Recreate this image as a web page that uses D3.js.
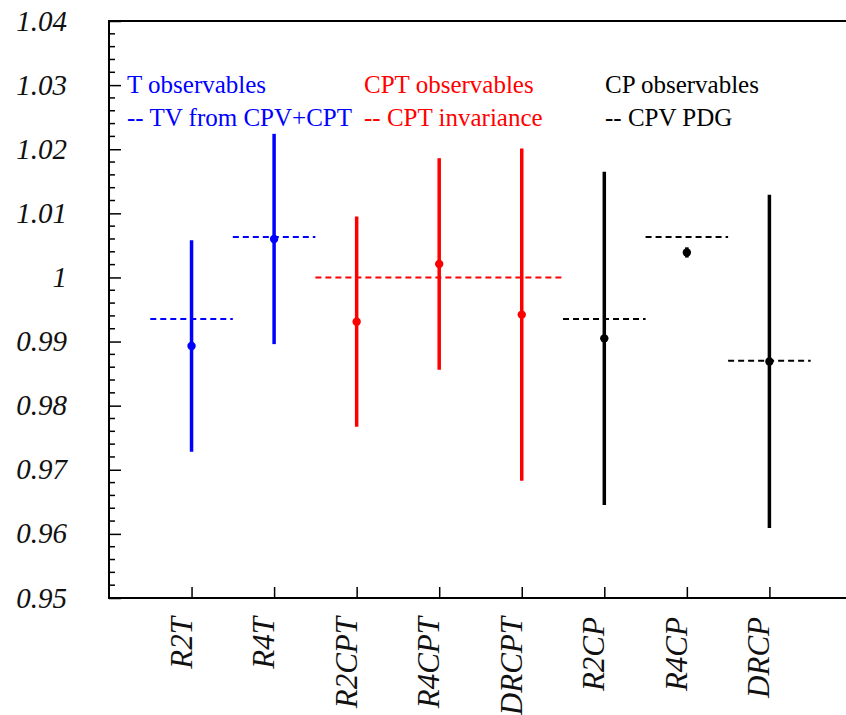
<!DOCTYPE html>
<html>
<head>
<meta charset="utf-8">
<script src="https://cdn.jsdelivr.net/npm/d3@7"></script>
</head>
<body style="margin:0">
<svg id="chart" width="846" height="715" style="font-family: 'Liberation Serif'"></svg>
<script>
// ---- data ----
const categories = ["R2T", "R4T", "R2CPT", "R4CPT", "DRCPT", "R2CP", "R4CP", "DRCP"];
const groups     = ["T", "T", "CPT", "CPT", "CPT", "CP", "CP", "CP"];
const values     = [0.9893, 1.0060, 0.9931, 1.0021, 0.9942, 0.9905, 1.0039, 0.9869];
const errors     = [0.0165, 0.0164, 0.0164, 0.0165, 0.0259, 0.0260, 0.0008, 0.0260];

// reference (dashed) lines: value, first and last category covered, group
const refValues = [0.9935, 1.0063, 1.0000, 0.9935, 1.0063, 0.9870];
const refStart  = ["R2T", "R4T", "R2CPT", "R2CP", "R4CP", "DRCP"];
const refEnd    = ["R2T", "R4T", "DRCPT", "R2CP", "R4CP", "DRCP"];
const refGroups = ["T", "T", "CPT", "CP", "CP", "CP"];

const groupNames  = ["T", "CPT", "CP"];
const legendLine1 = ["T observables", "CPT observables", "CP observables"];
const legendLine2 = ["-- TV from CPV+CPT", "-- CPT invariance", "-- CPV PDG"];

const yTicks = [0.95, 0.96, 0.97, 0.98, 0.99, 1.00, 1.01, 1.02, 1.03, 1.04];
const yDomain = [0.95, 1.04];

// ---- drawing ----
const svg = d3.select("#chart");
const padL = 109, padT = 21, padB = 598;
const stepPx = 82.55;
const padR = padL + stepPx * 9;
const SERIF = '"Liberation Serif"';

const x = d3.scalePoint().domain(categories).range([padL, padR]).padding(1);
const y = d3.scaleLinear().domain(yDomain).range([padB, padT]);
const color = d3.scaleOrdinal().domain(groupNames).range(["#0000ff", "#ff0000", "#000000"]);
const half = x.step() / 2;

// frame
svg.append("rect")
  .attr("x", padL).attr("y", padT)
  .attr("width", padR - padL).attr("height", padB - padT)
  .attr("fill", "none").attr("stroke", "#000").attr("stroke-width", 2);

// y axis: minor ticks
const minorTicks = y.ticks(45).filter(v => !yTicks.some(t => Math.abs(t - v) < 1e-9));
svg.append("g").selectAll("line").data(minorTicks).join("line")
  .attr("x1", padL).attr("x2", padL + 6)
  .attr("y1", d => y(d)).attr("y2", d => y(d))
  .attr("stroke", "#000").attr("stroke-width", 1.5);

// y axis: major ticks
const yAxis = d3.axisRight(y).tickValues(yTicks).tickSize(12).tickFormat("");
const gy = svg.append("g").attr("transform", `translate(${padL},0)`).call(yAxis);
gy.select(".domain").remove();
gy.selectAll(".tick line").attr("stroke", "#000").attr("stroke-width", 1.5);

svg.append("g").selectAll("text").data(yTicks).join("text")
  .style("font-family", SERIF)
  .style("font-style", "italic")
  .style("font-size", "29px")
  .attr("x", 67).attr("y", d => y(d))
  .attr("dy", "0.33em")
  .attr("text-anchor", "end")
  .attr("fill", "#111")
  .text(d => d3.format(".2~f")(d));

// x axis ticks and rotated labels
const xAxis = d3.axisTop(x).tickSize(11).tickFormat("");
const gx = svg.append("g").attr("transform", `translate(0,${padB})`).call(xAxis);
gx.select(".domain").remove();
gx.selectAll(".tick line").attr("stroke", "#000").attr("stroke-width", 1.5);

svg.append("g").selectAll("text").data(categories).join("text")
  .style("font-family", SERIF)
  .style("font-style", "italic")
  .style("font-size", "31px")
  .attr("transform", d => `translate(${x(d)},617) rotate(-90)`)
  .attr("text-anchor", "end")
  .attr("fill", "#111")
  .text(d => d);

// reference dashed lines
const refs = refValues.map((v, i) => ({ v, s: refStart[i], e: refEnd[i], g: refGroups[i] }));
svg.append("g").selectAll("line").data(refs).join("line")
  .attr("x1", d => x(d.s) - half).attr("x2", d => x(d.e) + half)
  .attr("y1", d => y(d.v)).attr("y2", d => y(d.v))
  .attr("stroke", d => color(d.g))
  .attr("stroke-width", 2)
  .attr("stroke-dasharray", "6,4");

// error bars and points
const pts = categories.map((c, i) => ({ c, g: groups[i], v: values[i], e: errors[i] }));
svg.append("g").selectAll("line").data(pts).join("line")
  .attr("x1", d => x(d.c)).attr("x2", d => x(d.c))
  .attr("y1", d => y(d.v - d.e)).attr("y2", d => y(d.v + d.e))
  .attr("stroke", d => color(d.g))
  .attr("stroke-width", 3.5);

svg.append("g").selectAll("circle").data(pts).join("circle")
  .attr("cx", d => x(d.c)).attr("cy", d => y(d.v))
  .attr("r", 4.2)
  .attr("fill", d => color(d.g));

// legend text
const legendX = [127, 364, 605];
svg.append("g").selectAll("text").data(groupNames).join("text")
  .style("font-family", SERIF)
  .style("font-size", "25px")
  .attr("x", (d, i) => legendX[i]).attr("y", 93)
  .attr("fill", d => color(d))
  .text((d, i) => legendLine1[i]);
svg.append("g").selectAll("text").data(groupNames).join("text")
  .style("font-family", SERIF)
  .style("font-size", "25px")
  .attr("x", (d, i) => legendX[i]).attr("y", 125.5)
  .attr("fill", d => color(d))
  .text((d, i) => legendLine2[i]);
</script>
</body>
</html>
